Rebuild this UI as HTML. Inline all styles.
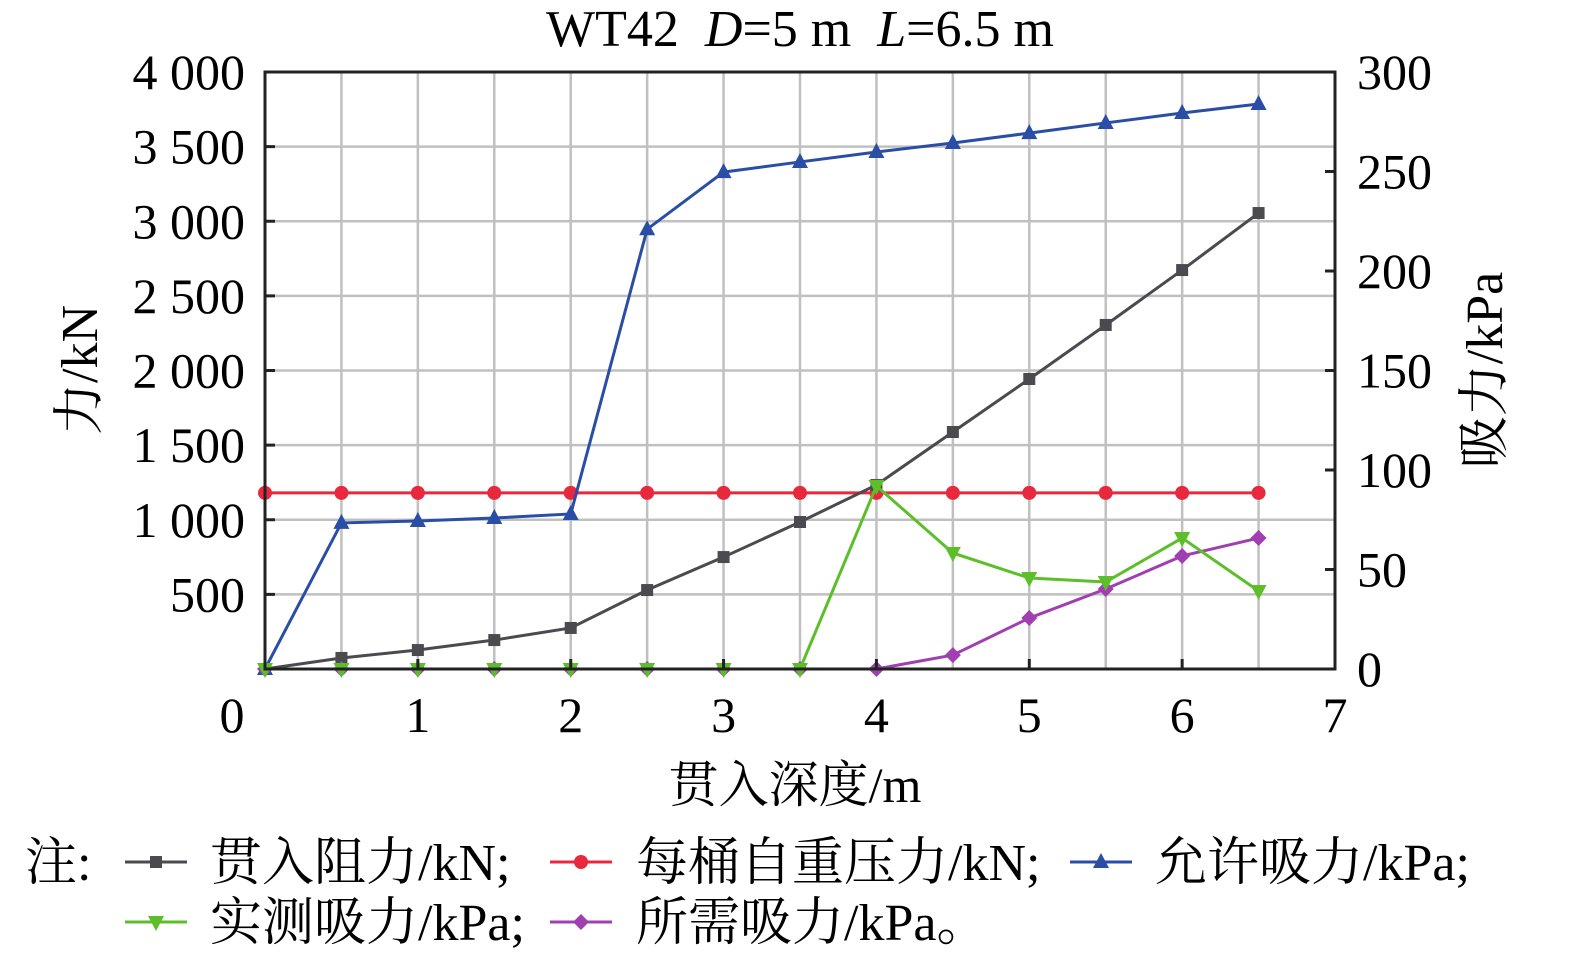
<!DOCTYPE html>
<html><head><meta charset="utf-8"><style>
html,body{margin:0;padding:0;background:#fff;overflow:hidden;width:1575px;height:962px;}
svg{display:block;font-family:"Liberation Serif","Noto Serif CJK SC",serif;}
</style></head><body>
<svg id="chart" width="1575" height="962" viewBox="0 0 1575 962">
<g id="grid"></g><g id="series"></g><g id="axes"></g><g id="legend"></g>
</svg>
<script>
const depths=[0,0.5,1,1.5,2,2.5,3,3.5,4,4.5,5,5.5,6,6.5];
const resistanceKN=[0,74,127,194,275,529,750,985,1233,1588,1943,2305,2673,3055];
const weightKN=[1180,1180,1180,1180,1180,1180,1180,1180,1180,1180,1180,1180,1180,1180];
const allowKPa=[0,73.4,74.4,75.9,77.9,221,249.7,254.8,259.8,264.3,269.3,274.4,279.4,283.9];
const measuredKPa=[0,0,0,0,0,0,0,0,92,58.3,45.7,43.7,65.8,39.2];
const requiredKPa=[0,0,0,0,0,0,0,0,0,7,25.6,40.2,56.8,65.8];
const xTicks=[0,1,2,3,4,5,6,7];
const yLeftTicks=["500","1 000","1 500","2 000","2 500","3 000","3 500","4 000"];
const yLeftVals=[500,1000,1500,2000,2500,3000,3500,4000];
const yRightVals=[0,50,100,150,200,250,300];

const L=265,R=1335,T=72,B=669;
const sx=v=>L+(R-L)*v/7;
const syL=v=>B-(B-T)*v/4000;
const syR=v=>B-(B-T)*v/300;
const NS="http://www.w3.org/2000/svg";
function mk(tag,attrs,parent,text){const e=document.createElementNS(NS,tag);for(const k in attrs)e.setAttribute(k,attrs[k]);if(text!==undefined)e.textContent=text;parent.appendChild(e);return e;}
const grid=document.getElementById('grid'),ser=document.getElementById('series'),ax=document.getElementById('axes');

for(let v=0.5;v<7;v+=0.5){const g=mk('line',{x1:sx(v),x2:sx(v),y1:T,y2:B,stroke:'#c0c0c0','stroke-width':2.5},grid);

}
for(let v=500;v<4000;v+=500){const g=mk('line',{x1:L,x2:R,y1:syL(v),y2:syL(v),stroke:'#c0c0c0','stroke-width':2.5},grid);

}

function marker(type,x,y,c,p){let e;
if(type==='sq')e=mk('rect',{x:x-6,y:y-6,width:12,height:12,fill:c},p);
else if(type==='ci')e=mk('circle',{cx:x,cy:y,r:7,fill:c},p);
else if(type==='tu')e=mk('polygon',{points:`${x},${y-9} ${x-8},${y+6} ${x+8},${y+6}`,fill:c},p);
else if(type==='td')e=mk('polygon',{points:`${x},${y+9} ${x-8},${y-6} ${x+8},${y-6}`,fill:c},p);
else e=mk('polygon',{points:`${x},${y-8} ${x+8},${y} ${x},${y+8} ${x-8},${y}`,fill:c},p);

}
function series(vals,sy,c,type,name){const g=mk('g',{},ser);


const pts=vals.map((v,i)=>sx(depths[i])+','+sy(v)).join(' ');
mk('polyline',{points:pts,fill:'none',stroke:c,'stroke-width':3},g);
vals.forEach((v,i)=>marker(type,sx(depths[i]),sy(v),c,g));}
series(weightKN,syL,'#e8283c','ci','weight-series');
series(resistanceKN,syL,'#4a4a4f','sq','resistance-series');
series(allowKPa,syR,'#2a4ea6','tu','allowable-suction-series');
series(requiredKPa,syR,'#a040b0','di','required-suction-series');
series(measuredKPa,syR,'#5cbf2a','td','measured-suction-series');

const fr=mk('rect',{x:L,y:T,width:R-L,height:B-T,fill:'none',stroke:'#222','stroke-width':3},ax);


xTicks.forEach(v=>{mk('line',{x1:sx(v),x2:sx(v),y1:B,y2:B-10,stroke:'#222','stroke-width':3},ax);
const t=mk('text',{x:v===0?232:sx(v),y:732,'text-anchor':'middle','font-size':50},ax,String(v));

});
yLeftVals.forEach((v,i)=>{mk('line',{x1:L,x2:L+10,y1:syL(v),y2:syL(v),stroke:'#222','stroke-width':3},ax);
const t=mk('text',{x:245,y:syL(v)+17,'text-anchor':'end','font-size':50},ax,yLeftTicks[i]);

});
yRightVals.forEach(v=>{mk('line',{x1:R,x2:R-10,y1:syR(v),y2:syR(v),stroke:'#222','stroke-width':3},ax);
const t=mk('text',{x:1357,y:syR(v)+17,'text-anchor':'start','font-size':50},ax,String(v));

});
</script>
<svg style="position:absolute;left:0;top:0" width="1575" height="962">
<text x="800" y="46" text-anchor="middle" font-size="52" font-family="Liberation Serif,serif">WT42&#160;&#160;<tspan font-style="italic">D</tspan>=5 m&#160;&#160;<tspan font-style="italic">L</tspan>=6.5 m</text>
<text x="795" y="802" text-anchor="middle" font-size="50" font-family="Liberation Serif,Noto Serif CJK SC,serif">贯入深度/m</text>
<text transform="translate(97,370) rotate(-90)" text-anchor="middle" font-size="52" font-family="Liberation Serif,Noto Serif CJK SC,serif">力/kN</text>
<text transform="translate(1502,370) rotate(-90)" text-anchor="middle" font-size="52" font-family="Liberation Serif,Noto Serif CJK SC,serif">吸力/kPa</text>
<g font-size="52" font-family="Liberation Serif,Noto Serif CJK SC,serif">
<text x="25" y="880">注:</text>
<g><line x1="125" x2="187" y1="862" y2="862" stroke="#4a4a4f" stroke-width="3"/><rect x="150" y="856" width="12" height="12" fill="#4a4a4f"/><text x="210" y="880">贯入阻力/kN;</text></g>
<g><line x1="550" x2="612" y1="862" y2="862" stroke="#e8283c" stroke-width="3"/><circle cx="581" cy="862" r="7" fill="#e8283c"/><text x="636" y="880">每桶自重压力/kN;</text></g>
<g><line x1="1070" x2="1132" y1="862" y2="862" stroke="#2a4ea6" stroke-width="3"/><polygon points="1101,853 1093,868 1109,868" fill="#2a4ea6"/><text x="1155" y="880">允许吸力/kPa;</text></g>
<g><line x1="125" x2="187" y1="922" y2="922" stroke="#5cbf2a" stroke-width="3"/><polygon points="156,931 148,916 164,916" fill="#5cbf2a"/><text x="210" y="940">实测吸力/kPa;</text></g>
<g><line x1="550" x2="612" y1="922" y2="922" stroke="#a040b0" stroke-width="3"/><polygon points="581,914 589,922 581,930 573,922" fill="#a040b0"/><text x="636" y="940">所需吸力/kPa。</text></g>
</g>
</svg>
</body></html>
